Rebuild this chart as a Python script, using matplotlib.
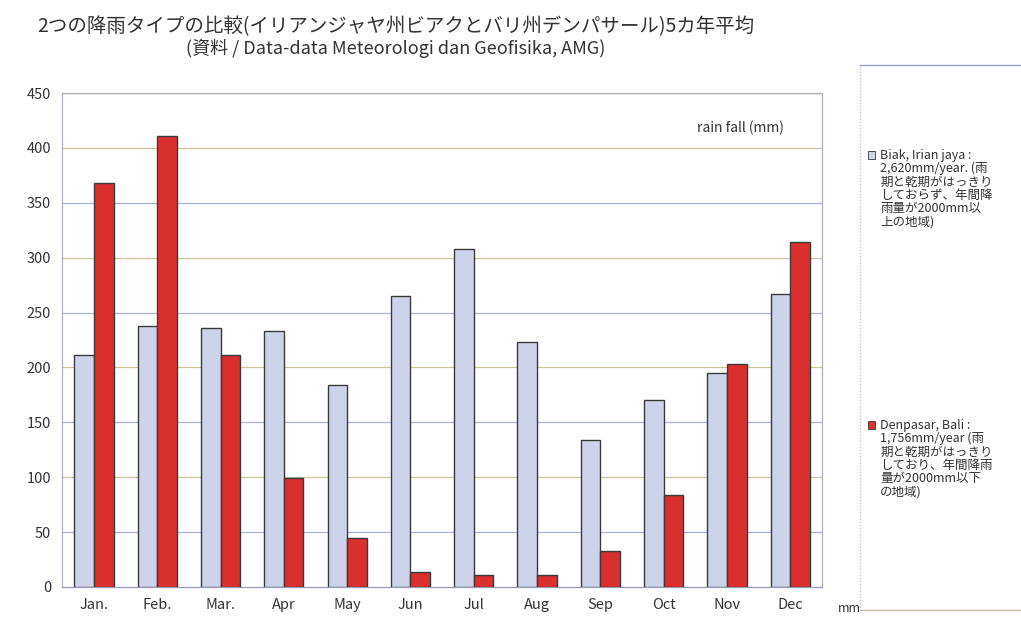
import matplotlib
matplotlib.use("Agg")
import matplotlib.pyplot as plt
import numpy as np

plt.rcParams['font.family'] = ['Noto Sans CJK JP', 'DejaVu Sans']

# monthly mean rainfall (mm), 5-year average
months = ["Jan.", "Feb.", "Mar.", "Apr", "May", "Jun", "Jul", "Aug", "Sep", "Oct", "Nov", "Dec"]
biak = [211, 238, 236, 233, 184, 265, 308, 223, 134, 170, 195, 267]
denpasar = [368, 411, 211, 99, 45, 14, 11, 11, 33, 84, 203, 314]

biak_label = ["Biak, Irian jaya :", "2,620mm/year. (雨", "期と乾期がはっきり",
              "しておらず、年間降", "雨量が2000mm以", "上の地域)"]
denpasar_label = ["Denpasar, Bali :", "1,756mm/year (雨", "期と乾期がはっきり",
                  "しており、年間降雨", "量が2000mm以下", "の地域)"]

blue = "#cdd4ea"
red = "#d9302e"
edge = "#3a3a3a"
text_c = "#333333"

fig = plt.figure(figsize=(10.21, 6.25), dpi=100)
ax = fig.add_axes([0.061, 0.061, 0.744, 0.790])

x = np.arange(len(months))
w = 0.31
ax.bar(x - w / 2, biak, w, color=blue, edgecolor=edge, linewidth=1.0, zorder=3)
ax.bar(x + w / 2, denpasar, w, color=red, edgecolor=edge, linewidth=1.0, zorder=3)

ax.set_xlim(-0.5, len(months) - 0.5)
ax.set_ylim(0, 450)
ax.set_yticks(range(0, 451, 50))
ax.set_xticks(x)
ax.set_xticklabels(months)
ax.tick_params(length=0, labelsize=10.5, colors=text_c, pad=8)

# light horizontal rules, alternating tint
for i, v in enumerate(range(50, 450, 50)):
    ax.axhline(v, color="#cfc49a" if i % 2 else "#a9b1dc", lw=0.9, zorder=1)
ax.axhline(450, color="#8c93b8", lw=1.0, zorder=1)

for s in ax.spines.values():
    s.set_color("#b0b0c0")
    s.set_linestyle((0, (1, 1)))
    s.set_linewidth(0.9)
ax.spines["bottom"].set_linestyle("-")
ax.spines["bottom"].set_color("#9a9ab8")

ax.text(0.95, 0.93, "rain fall (mm)", transform=ax.transAxes, ha="right", va="center",
        fontsize=10, color=text_c)

fig.text(0.388, 0.958, "2つの降雨タイプの比較(イリアンジャヤ州ビアクとバリ州デンパサール)5カ年平均",
         ha="center", va="center", fontsize=14, color=text_c)
fig.text(0.388, 0.922, "(資料 / Data-data Meteorologi dan Geofisika, AMG)",
         ha="center", va="center", fontsize=13, color=text_c)

# side panel with the legend notes
fig.add_artist(plt.Line2D([0.842, 1.0], [0.896, 0.896], color="#9aa0c8", lw=1.0))
fig.add_artist(plt.Line2D([0.842, 0.842], [0.896, 0.024], color="#b8bcd8", lw=0.9,
                          linestyle=(0, (1, 1.5))))
fig.add_artist(plt.Line2D([0.842, 1.0], [0.024, 0.024], color="#c8b8a8", lw=1.0))
fig.text(0.821, 0.026, "mm", fontsize=9, color=text_c, va="center")


def note(lines, color, y0):
    fig.patches.append(plt.Rectangle((0.850, y0 - 0.007), 0.007, 0.013, transform=fig.transFigure,
                                     facecolor=color, edgecolor=edge, lw=0.6, figure=fig))
    for i, line in enumerate(lines):
        fig.text(0.862, y0 - i * 0.0215, line, fontsize=9, color=text_c, va="center")


note(biak_label, blue, 0.752)
note(denpasar_label, red, 0.320)

fig.savefig("out.png", dpi=100, facecolor="white")
